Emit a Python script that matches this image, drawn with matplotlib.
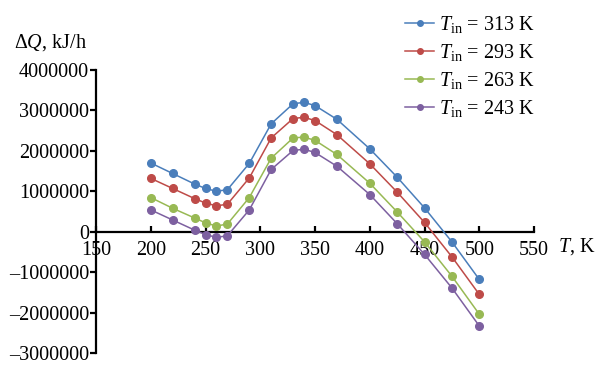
import matplotlib
matplotlib.use("Agg")
import matplotlib.pyplot as plt
from matplotlib.ticker import FuncFormatter

plt.rcParams['font.family'] = ['Liberation Serif', 'DejaVu Serif']
plt.rcParams['mathtext.fontset'] = 'custom'
plt.rcParams['mathtext.rm'] = 'Liberation Serif'
plt.rcParams['mathtext.it'] = 'Liberation Serif:italic'

T = [200, 220, 240, 250, 260, 270, 290, 310, 330, 340, 350, 370, 400, 425, 450, 475, 500]
dQ_313 = [1700000, 1440000, 1180000, 1070000, 1000000, 1040000, 1690000, 2670000, 3165000, 3200000,
          3120000, 2780000, 2050000, 1350000, 590000, -250000, -1180000]
dQ_293 = [1320000, 1070000, 820000, 710000, 640000, 680000, 1330000, 2320000, 2800000, 2830000,
          2750000, 2400000, 1680000, 980000, 230000, -620000, -1550000]
dQ_263 = [845000, 580000, 340000, 220000, 140000, 190000, 845000, 1820000, 2320000, 2340000,
          2260000, 1910000, 1200000, 490000, -250000, -1100000, -2040000]
dQ_243 = [540000, 290000, 40000, -70000, -140000, -100000, 540000, 1540000, 2010000, 2040000,
          1960000, 1620000, 920000, 200000, -560000, -1390000, -2330000]
labels = ["313", "293", "263", "243"]
colors = ["#4A7EBB", "#BE4B48", "#98B954", "#7D60A0"]
series = [dQ_313, dQ_293, dQ_263, dQ_243]

FS = 14.5

fig = plt.figure(figsize=(6.03, 3.73), dpi=100)
ax = fig.add_axes([96/603, 20/373, 438/603, 283/373])

handles = []
for s, lab, c in zip(series, labels, colors):
    ax.plot(T, s, color=c, lw=1.1, marker='o', ms=5.5, mec=c, mfc=c, zorder=3)
    h, = ax.plot([], [], color=c, lw=1.1, marker='o', ms=4, label=r"$T_{\rm in}$ = " + lab + " K")
    handles.append(h)

ax.set_xlim(150, 550)
ax.set_ylim(-3000000, 4000000)
ax.set_xticks(range(150, 551, 50))
ax.set_yticks(range(-3000000, 4000001, 1000000))

ax.spines['top'].set_visible(False)
ax.spines['right'].set_visible(False)
ax.spines['bottom'].set_position(('data', 0))
ax.spines['left'].set_linewidth(1.6)
ax.spines['bottom'].set_linewidth(1.6)

ax.tick_params(axis='x', direction='in', length=4, width=1.6, labelsize=FS, pad=7)
ax.tick_params(axis='y', direction='out', length=4, width=1.6, labelsize=FS, pad=1)
ax.yaxis.set_major_formatter(FuncFormatter(lambda v, p: ("\u2013%d" % -v) if v < 0 else "%d" % v))

fig.text(14/603, 1 - 43/373, r"$\Delta Q$, kJ/h", fontsize=FS, va='center', ha='left')
fig.text(558/603, 1 - 247/373, r"$T$, K", fontsize=FS, va='center', ha='left')

leg = fig.legend(handles=handles, loc='upper left', bbox_to_anchor=(397/603, 1 - 6/373),
                 frameon=False, fontsize=FS, handlelength=1.45, handletextpad=0.25,
                 labelspacing=0.35, borderaxespad=0)

fig.savefig("out.png", dpi=100)
